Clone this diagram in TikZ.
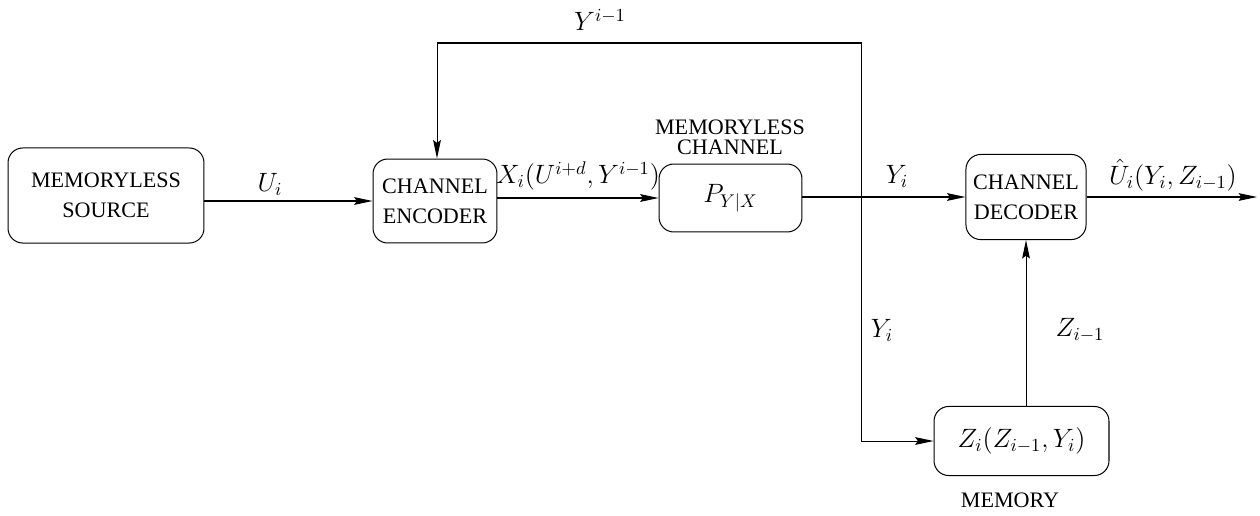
\documentclass[tikz,border=0pt]{standalone}
\usepackage{fontspec}
\setmainfont{Liberation Serif}
\usepackage{tikz}
\usetikzlibrary{shapes,positioning,calc}
\usetikzlibrary{arrows.meta}
\tikzstyle{block} = [rectangle, rounded corners=8pt, draw=black, line width=0.55pt, text centered, align=center, inner sep=1pt]
\tikzstyle{arrow} = [line width=0.55pt, -{Stealth[length=10pt, width=4.2pt, inset=1.5pt]}]
\tikzstyle{mlabel} = [font=\fontsize{14.4}{17}\selectfont, inner sep=1pt]

\begin{document}
\begin{tikzpicture}[x=0.543pt, y=-0.543pt, font=\fontsize{12}{16.5}\selectfont]
\useasboundingbox (0,0) rectangle (1260,515);
\node (src) at (106,195.5) [block, minimum width=106.4pt, minimum height=51.6pt] {MEMORYLESS\\SOURCE};
\node (enc) at (435,201) [block, minimum width=67.3pt, minimum height=45.6pt] {CHANNEL\\ENCODER};
\node (chan) at (730.5,198) [block, mlabel, minimum width=77.6pt, minimum height=36.9pt] {$P_{Y|X}$};
\node (dec) at (1026,197) [block, minimum width=65.2pt, minimum height=46.2pt] {CHANNEL\\DECODER};
\node (mem) at (1021.5,441) [block, mlabel, minimum width=95pt, minimum height=37.5pt] {$Z_i(Z_{i-1},Y_i)$};
\coordinate (br) at (861,197);
\coordinate (out) at (1257,197);
% labels
\node (lu) at (270,184) [mlabel] {$U_i$};
\node (lx) at (578,176) [mlabel] {$X_i(U^{i+d},Y^{i-1})$};
\node (lfb) at (600,20) [mlabel] {$Y^{i-1}$};
\node (lch) at (730,137) [align=center, font=\fontsize{12}{11}\selectfont] {MEMORYLESS\\CHANNEL};
\node (ly1) at (897,176) [mlabel] {$Y_i$};
\node (luh) at (1173,175) [mlabel] {$\hat{U}_i(Y_i,Z_{i-1})$};
\node (ly2) at (882,330) [mlabel] {$Y_i$};
\node (lz) at (1080,330) [mlabel] {$Z_{i-1}$};
\node (lmem) at (1010,500) {MEMORY};
% connectors
\draw[arrow] (src.east |- enc.west) -- (enc.west);
\draw[arrow] (enc.east |- chan.west) -- (chan.west);
\draw[arrow] (chan.east |- dec.west) -- (dec.west);
\draw[arrow] (dec.east) -- (out);
\draw[arrow] (br) -- (br |- 0,43) -| ($(enc.north)+(2,0)$);
\draw[arrow] (br) |- (mem.west);
\draw[arrow] (mem.north -| dec.south) -- (dec.south);
\end{tikzpicture}
\end{document}
